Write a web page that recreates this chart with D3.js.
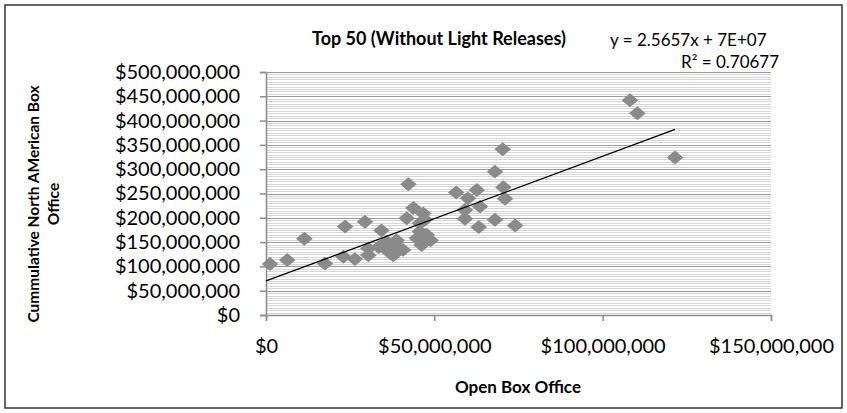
<!DOCTYPE html>
<meta charset="utf-8">
<script src="https://d3js.org/d3.v7.min.js"></script>
<style>
  body { margin: 0; background: #fff; }
  text { font-family: Lato, "Open Sans", sans-serif; fill: #000; }
</style>
<body>
<div id="chart"></div>
</body>
<script>
// opening weekend ($M) vs cumulative North American gross ($M)
var openBO = [1.2, 6.3, 11.4, 17.5, 23.0, 23.5, 26.4, 29.4, 30.4, 30.4,
  34.3, 35.8, 35.8, 37.8, 38.8, 39.8, 40.7, 42.3, 41.8, 43.8,
  46.7, 45.7, 47.2, 44.8, 45.7, 46.2, 48.9, 47.7, 56.5, 60.0,
  62.6, 59.1, 63.6, 59.1, 63.2, 68.0, 70.5, 71.0, 68.0, 74.0,
  70.3, 108.1, 110.3, 121.5, 36.8, 38.5, 33.5];
var cumBO = [105, 113, 157, 106, 120, 182, 115, 192, 137, 123,
  174, 151, 134, 123, 154, 137, 134, 269, 199, 220,
  209, 189, 196, 158, 172, 144, 154, 165, 252, 240,
  257, 216, 223, 198, 181, 295, 263, 239, 196, 184,
  341, 442, 415, 324, 128, 143, 140];
var slope = 2.5657, intercept = 7e7;
var xTicks = [0, 50e6, 100e6, 150e6];
var yTicks = d3.range(0, 500e6 + 1, 50e6);

var W = 847, H = 413;
var plotL = 266, plotR = 771, plotT = 72, plotB = 315;

var svg = d3.select("#chart").append("svg")
  .attr("width", W).attr("height", H);

// chart border
svg.append("rect")
  .attr("x", 5).attr("y", 5).attr("width", W - 10).attr("height", H - 10)
  .attr("fill", "#fff").attr("stroke", "#333").attr("stroke-width", 1.5);

var x = d3.scaleLinear().domain([0, 150e6]).range([plotL, plotR]);
var y = d3.scaleLinear().domain([0, 500e6]).range([plotB, plotT]);
var fmt = function(v) { return "$" + d3.format(",")(v); };

// minor gridlines every 5M
svg.append("g").selectAll("line")
  .data(d3.range(5e6, 500e6, 5e6).filter(function(v) { return v % 50e6 !== 0; }))
  .enter().append("line")
  .attr("x1", plotL).attr("x2", plotR)
  .attr("y1", function(d) { return Math.round(y(d)) + 0.5; })
  .attr("y2", function(d) { return Math.round(y(d)) + 0.5; })
  .attr("stroke", "#d6d6d6");

// major gridlines
svg.append("g").selectAll("line")
  .data(yTicks.slice(1))
  .enter().append("line")
  .attr("x1", plotL).attr("x2", plotR)
  .attr("y1", function(d) { return Math.round(y(d)) + 0.5; })
  .attr("y2", function(d) { return Math.round(y(d)) + 0.5; })
  .attr("stroke", "#9a9a9a");

// axes
var yAxis = svg.append("g")
  .attr("transform", "translate(" + plotL + ",0)")
  .call(d3.axisLeft(y).tickValues(yTicks).tickSize(6).tickPadding(20).tickFormat(fmt));
var xAxis = svg.append("g")
  .attr("transform", "translate(0," + plotB + ")")
  .call(d3.axisBottom(x).tickValues(xTicks).tickSize(6).tickPadding(18).tickFormat(fmt));
[xAxis, yAxis].forEach(function(a) {
  a.select(".domain").attr("stroke", "#8c8c8c").attr("stroke-width", 1.5);
  a.selectAll(".tick line").attr("stroke", "#8c8c8c").attr("stroke-width", 1.5);
  a.selectAll(".tick text").attr("font-size", 20).attr("font-family", "Lato").attr("fill", "#000");
});

// points: rotated square squashed into a diamond
svg.append("g").selectAll("path")
  .data(openBO.map(function(d, i) { return [d * 1e6, cumBO[i] * 1e6]; }))
  .enter().append("path")
  .attr("d", d3.symbol().type(d3.symbolSquare).size(108))
  .attr("transform", function(d) {
    return "translate(" + x(d[0]) + "," + y(d[1]) + ") scale(1.13,0.95) rotate(45)";
  })
  .attr("fill", "#8a8a8a");

// linear trendline
var xmax = d3.max(openBO) * 1e6;
svg.append("line")
  .attr("x1", x(0)).attr("y1", y(intercept))
  .attr("x2", x(xmax)).attr("y2", y(slope * xmax + intercept))
  .attr("stroke", "#000").attr("stroke-width", 1.3);

// titles
svg.append("text").attr("x", 439).attr("y", 45).attr("text-anchor", "middle")
  .attr("font-size", 18).attr("font-weight", "bold")
  .text("Top 50 (Without Light Releases)");
svg.append("text").attr("x", 610).attr("y", 46).attr("font-size", 17)
  .text("y = 2.5657x + 7E+07");
svg.append("text").attr("x", 681).attr("y", 68).attr("font-size", 17)
  .text("R² = 0.70677");
svg.append("text").attr("x", 518).attr("y", 393).attr("text-anchor", "middle")
  .attr("font-size", 17).attr("font-weight", "bold")
  .text("Open Box Office");
var yt = svg.append("text").attr("transform", "translate(42,204) rotate(-90)")
  .attr("text-anchor", "middle").attr("font-size", 15.5).attr("font-weight", "bold");
yt.append("tspan").attr("x", 0).attr("dy", -3).text("Cummulative North AMerican Box");
yt.append("tspan").attr("x", 0).attr("dy", 20).text("Office");
</script>
